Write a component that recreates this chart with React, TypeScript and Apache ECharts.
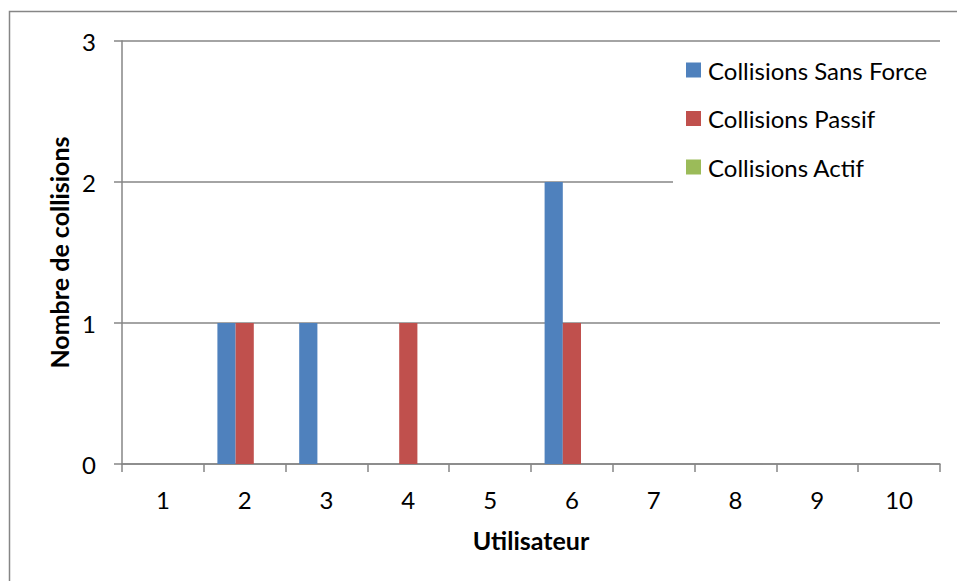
import React, { useEffect, useRef } from "react";
import * as echarts from "echarts";

const categories = ["1", "2", "3", "4", "5", "6", "7", "8", "9", "10"];
const sansForce = [0, 1, 1, 0, 0, 2, 0, 0, 0, 0];
const passif = [0, 1, 0, 1, 0, 1, 0, 0, 0, 0];
const actif = [0, 0, 0, 0, 0, 0, 0, 0, 0, 0];
const seriesNames = ["Collisions Sans Force", "Collisions Passif", "Collisions Actif"];
const seriesColors = ["#4F81BD", "#C0504D", "#9BBB59"];

const FONT = "Lato, 'Open Sans', sans-serif";
const GRAY = "#868686";

export default function App() {
  const ref = useRef<HTMLDivElement>(null);
  useEffect(() => {
    if (!ref.current) return;
    const chart = echarts.init(ref.current, null, { renderer: "svg" });
    const data = [sansForce, passif, actif];
    chart.setOption({
      animation: false,
      backgroundColor: "#ffffff",
      textStyle: { fontFamily: FONT },
      graphic: [
        {
          type: "rect",
          shape: { x: 9.5, y: 11.5, width: 1000, height: 1000 },
          style: { fill: "none", stroke: GRAY, lineWidth: 1.5 },
          z: -1,
        },
      ],
      grid: { left: 122, right: 17, top: 41, bottom: 117, containLabel: false },
      legend: {
        orient: "vertical",
        left: 673,
        top: 48,
        padding: [10, 20, 13, 13],
        backgroundColor: "#ffffff",
        itemWidth: 15,
        itemHeight: 15,
        itemGap: 24.5,
        icon: "rect",
        textStyle: { fontFamily: FONT, fontSize: 24, color: "#000", padding: [0, 0, 0, 2] },
        data: seriesNames,
      },
      xAxis: {
        type: "category",
        data: categories,
        name: "Utilisateur",
        nameLocation: "middle",
        nameGap: 63,
        nameTextStyle: { fontFamily: FONT, fontSize: 25, fontWeight: "bold", color: "#000" },
        axisLine: { show: true, lineStyle: { color: GRAY, width: 1.5 } },
        axisTick: { show: true, length: 8, alignWithLabel: false, lineStyle: { color: GRAY, width: 1.5 } },
        axisLabel: { fontFamily: FONT, fontSize: 24, color: "#000", margin: 23 },
        splitLine: { show: false },
      },
      yAxis: {
        type: "value",
        min: 0,
        max: 3,
        interval: 1,
        name: "Nombre de collisions",
        nameLocation: "middle",
        nameGap: 50,
        nameTextStyle: { fontFamily: FONT, fontSize: 25, fontWeight: "bold", color: "#000" },
        axisLine: { show: true, lineStyle: { color: GRAY, width: 1.5 } },
        axisTick: { show: true, length: 8, lineStyle: { color: GRAY, width: 1.5 } },
        axisLabel: { fontFamily: FONT, fontSize: 24, color: "#000", margin: 26 },
        splitLine: { show: true, lineStyle: { color: GRAY, width: 1.5 } },
      },
      series: seriesNames.map((name, i) => ({
        name,
        type: "bar",
        data: data[i],
        barWidth: 18.2,
        barGap: "0%",
        itemStyle: { color: seriesColors[i] },
        z: 2,
      })),
    });
    return () => chart.dispose();
  }, []);
  return (
    <div
      ref={ref}
      style={{ position: "fixed", left: 0, top: 0, width: 957, height: 581 }}
    />
  );
}
